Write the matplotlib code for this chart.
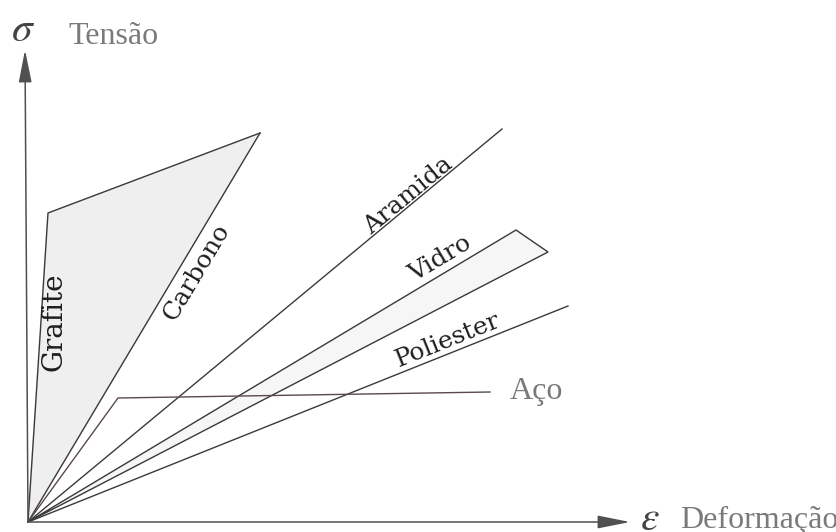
import matplotlib.pyplot as plt
import numpy as np

plt.rcParams["mathtext.fontset"] = "stix"

# schematic stress-strain curves (arbitrary units, origin at 0,0)
grafite_eps = [0.0, 0.20, 2.32]
grafite_sig = [0.0, 3.09, 3.89]
carbono_eps = [0.0, 2.32]
carbono_sig = [0.0, 3.89]
aramida_eps = [0.0, 4.74]
aramida_sig = [0.0, 3.93]
vidro_eps = [0.0, 4.88, 5.20, 0.0]
vidro_sig = [0.0, 2.92, 2.70, 0.0]
poliester_eps = [0.0, 5.40]
poliester_sig = [0.0, 2.16]
aco_eps = [0.0, 0.90, 4.62]
aco_sig = [0.0, 1.24, 1.30]

line_color = "#3a3a3a"
label_color = "#7a7a7a"

fig = plt.figure(figsize=(8.37, 5.32), dpi=100)
ax = fig.add_axes([0, 0, 1, 1])
ax.set_xlim(-0.28, 8.09)
ax.set_ylim(-0.10, 5.22)
ax.axis("off")

# shaded regions
ax.fill(grafite_eps, grafite_sig, color="#efefef", zorder=0)
ax.fill(vidro_eps, vidro_sig, color="#f6f6f6", zorder=0)

for xs, ys in [
    (grafite_eps, grafite_sig),
    (carbono_eps, carbono_sig),
    (aramida_eps, aramida_sig),
    (vidro_eps, vidro_sig),
    (poliester_eps, poliester_sig),
]:
    ax.plot(xs, ys, color=line_color, lw=1.0, solid_joinstyle="miter")
ax.plot(aco_eps, aco_sig, color="#5a4a4a", lw=1.0)

# axes with arrows
arrow = dict(arrowstyle="-|>,head_length=1.0,head_width=0.2",
             color="#505050", lw=1.1, shrinkA=0, shrinkB=0, mutation_scale=20)
ax.annotate("", xy=(-0.03, 4.72), xytext=(0, 0), arrowprops=arrow)
ax.annotate("", xy=(6.02, 0.0), xytext=(0, 0), arrowprops=arrow)

serif = ["Liberation Serif", "DejaVu Serif"]
ax.text(-0.05, 4.93, r"$\sigma$", fontsize=30, color="#444444", ha="center", va="center")
ax.text(0.40, 4.85, "Tensão", fontsize=23, color=label_color, family=serif, va="center")
ax.text(6.22, 0.04, r"$\varepsilon$", fontsize=30, color="#444444", ha="center", va="center")
ax.text(6.52, -0.06, "Deformação", fontsize=23, color=label_color, family=serif, va="baseline")
ax.text(4.82, 1.23, "Aço", fontsize=23, color=label_color, family=serif, va="baseline")


def angle(xs, ys):
    p0 = ax.transData.transform((xs[0], ys[0]))
    p1 = ax.transData.transform((xs[1], ys[1]))
    return np.degrees(np.arctan2(p1[1] - p0[1], p1[0] - p0[0]))


lab = dict(color="#1e1e1e", family="DejaVu Serif",
           ha="center", va="center", rotation_mode="anchor")
ax.text(0.26, 2.00, "Grafite", rotation=90, fontsize=20, **lab)
ax.text(1.69, 2.50, "Carbono", rotation=angle(carbono_eps, carbono_sig), fontsize=18, **lab)
ax.text(3.80, 3.26, "Aramida", rotation=angle(aramida_eps, aramida_sig), fontsize=18, **lab)
ax.text(4.12, 2.63, "Vidro", rotation=angle(vidro_eps, vidro_sig), fontsize=18, **lab)
ax.text(4.20, 1.82, "Poliester", rotation=angle(poliester_eps, poliester_sig), fontsize=18, **lab)

fig.savefig("out.png", dpi=100)
